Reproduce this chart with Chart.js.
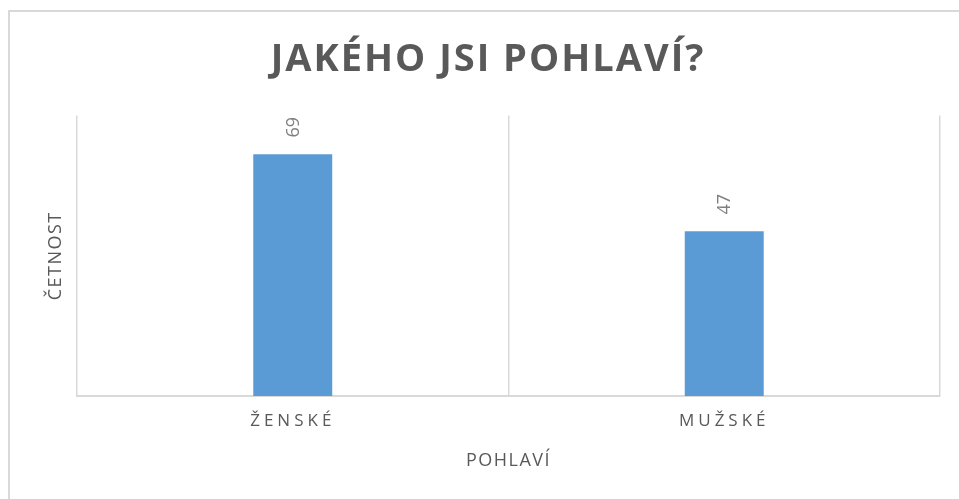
<!DOCTYPE html>
<html>
<head>
<meta charset="utf-8">
<script src="https://cdn.jsdelivr.net/npm/chart.js@4/dist/chart.umd.min.js"></script>
<style>
  html, body { margin: 0; padding: 0; background: #ffffff; overflow: hidden; }
  #wrap { position: relative; width: 959px; height: 499px; overflow: hidden; }
  #frame { position: absolute; left: 8px; top: 10px; width: 1100px; height: 700px; border: 2px solid #d9d9d9; box-sizing: border-box; }
  #c { position: absolute; left: 0; top: 0; }
</style>
</head>
<body>
<div id="wrap">
  <div id="frame"></div>
  <canvas id="c" width="959" height="499"></canvas>
</div>
<script>
const titleText = 'JAKÉHO JSI POHLAVÍ?';
const categories = ['ŽENSKÉ', 'MUŽSKÉ'];
const counts = [69, 47];
const xAxisTitle = 'POHLAVÍ';
const yAxisTitle = 'ČETNOST';
const yMax = 80;

const spacingPlugin = {
  id: 'spacing',
  afterLayout(chart) {
    const ctx = chart.ctx;
    const wrap = (obj, fn, sp) => {
      if (!obj) return;
      obj.__wrapped = obj.__wrapped || {};
      if (obj.__wrapped[fn]) return;
      const orig = obj[fn];
      obj[fn] = function (...args) {
        const prev = ctx.letterSpacing;
        ctx.letterSpacing = sp;
        try { return orig.apply(this, args); }
        finally { ctx.letterSpacing = prev; }
      };
      obj.__wrapped[fn] = true;
    };
    wrap(chart.titleBlock, 'draw', '2px');
    wrap(chart.scales.x, 'drawLabels', '4px');
    wrap(chart.scales.x, 'drawTitle', '1.5px');
    wrap(chart.scales.y, 'drawTitle', '1.5px');
  }
};

const valueLabels = {
  id: 'valueLabels',
  afterDatasetsDraw(chart) {
    const ctx = chart.ctx;
    chart.getDatasetMeta(0).data.forEach((bar, i) => {
      ctx.save();
      ctx.translate(bar.x + 1, bar.y - 27);
      ctx.rotate(-Math.PI / 2);
      ctx.font = '18px "Open Sans"';
      ctx.fillStyle = '#7f7f7f';
      ctx.textAlign = 'center';
      ctx.textBaseline = 'middle';
      ctx.fillText(String(counts[i]), 0, 0);
      ctx.restore();
    });
  }
};

new Chart(document.getElementById('c'), {
  type: 'bar',
  data: {
    labels: categories,
    datasets: [{
      data: counts,
      backgroundColor: '#5b9bd5',
      borderWidth: 0,
      barPercentage: 0.183,
      categoryPercentage: 1.0
    }]
  },
  options: {
    responsive: false,
    animation: false,
    events: [],
    layout: { padding: { left: 17, right: 0, top: 0, bottom: 0 } },
    plugins: {
      legend: { display: false },
      tooltip: { enabled: false },
      title: {
        display: true,
        text: titleText,
        color: '#595959',
        font: { family: '"Open Sans"', size: 38, weight: 'bold', lineHeight: 1.2 },
        padding: { top: 37, bottom: 33 }
      }
    },
    scales: {
      x: {
        grid: { display: true, offset: true, color: '#d9d9d9', lineWidth: 1.5, drawTicks: false },
        border: { display: true, color: '#d9d9d9', width: 2 },
        ticks: { color: '#595959', font: { family: '"Open Sans"', size: 17 }, padding: 15, maxRotation: 0 },
        title: {
          display: true,
          text: xAxisTitle,
          color: '#595959',
          font: { family: '"Open Sans"', size: 18, lineHeight: 1.2 },
          padding: { top: 0, bottom: 27 }
        },
        afterFit(scale) { scale.height = 103; }
      },
      y: {
        min: 0,
        max: yMax,
        grid: { display: false },
        border: { display: false },
        ticks: { display: false },
        title: {
          display: true,
          text: yAxisTitle,
          color: '#595959',
          font: { family: '"Open Sans"', size: 18, lineHeight: 1.2 },
          padding: { top: 28, bottom: 0 }
        },
        afterFit(scale) { scale.width = 60; }
      },
      yRight: {
        position: 'right',
        min: 0,
        max: yMax,
        grid: { display: false },
        border: { display: false },
        ticks: { display: false },
        title: { display: false },
        afterFit(scale) { scale.width = 19; }
      }
    }
  },
  plugins: [spacingPlugin, valueLabels]
});
</script>
</body>
</html>
